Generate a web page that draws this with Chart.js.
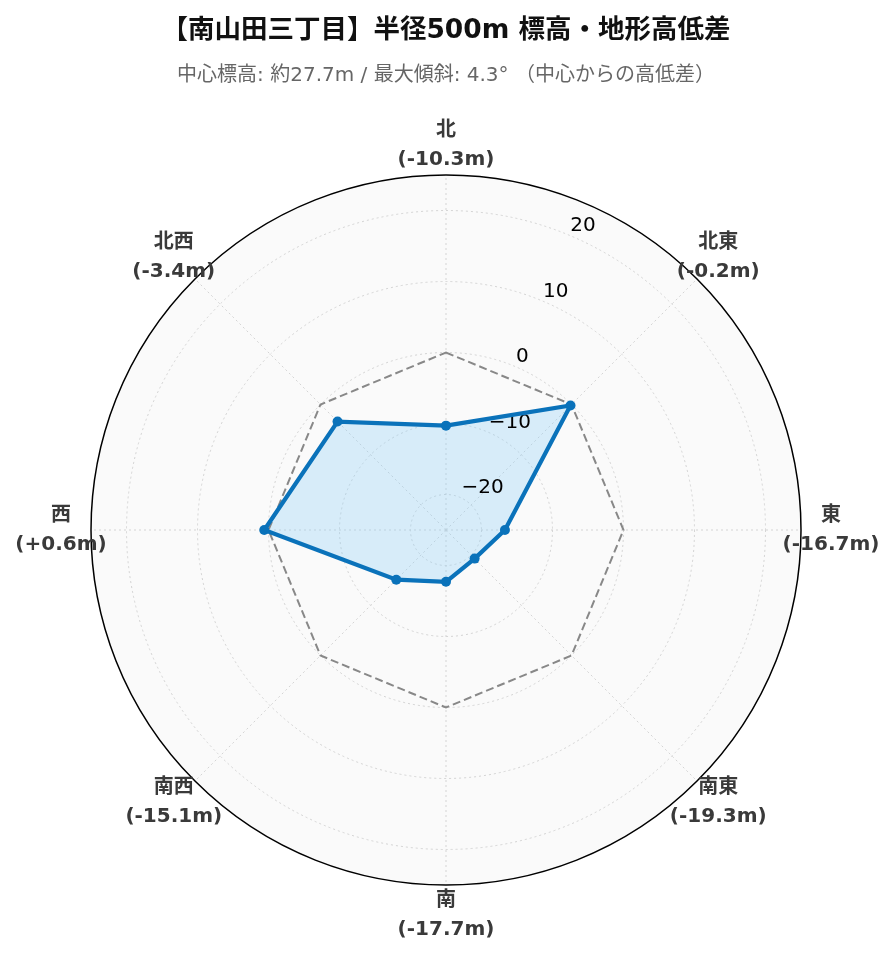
<!DOCTYPE html>
<html>
<head>
<meta charset="utf-8">
<script src="https://cdn.jsdelivr.net/npm/chart.js@4.4.1/dist/chart.umd.min.js"></script>
<style>
html, body { margin: 0; padding: 0; background: #fff; }
</style>
</head>
<body>
<canvas id="elevChart" width="896" height="962"></canvas>
<script>
// 方位と中心からの高低差 (m)
const directions = ["北", "北東", "東", "南東", "南", "南西", "西", "北西"];
const elevDiff = [-10.3, -0.2, -16.7, -19.3, -17.7, -15.1, 0.6, -3.4];
const baseLine = [0, 0, 0, 0, 0, 0, 0, 0];
const tickValues = [-20, -10, 0, 10, 20];
const rMin = -25;
const rMax = 25;

const FONT = '"DejaVu Sans", "Noto Sans CJK JP", sans-serif';

function diffLabel(v) {
  return "(" + (v > 0 ? "+" : "") + v.toFixed(1) + "m)";
}

// radial tick labels at 22.5deg + direction labels with values
const polarText = {
  id: "polarText",
  beforeDatasetsDraw(chart) {
    const r = chart.scales.r;
    const ctx = chart.ctx;
    ctx.save();
    ctx.font = "20px " + FONT;
    ctx.fillStyle = "#000";
    ctx.textAlign = "left";
    ctx.textBaseline = "middle";
    tickValues.forEach(v => {
      const p = r.getPointPosition(0.5, r.getDistanceFromCenterForValue(v));
      const txt = v < 0 ? "\u2212" + Math.abs(v) : String(v);
      ctx.fillText(txt, p.x + 2, p.y - 9);
    });
    ctx.restore();
  },
  afterDatasetsDraw(chart) {
    const r = chart.scales.r;
    const ctx = chart.ctx;
    ctx.save();
    ctx.font = "bold 20px " + FONT;
    ctx.fillStyle = "#3a3a3a";
    ctx.textAlign = "center";
    ctx.textBaseline = "middle";
    directions.forEach((d, i) => {
      const p = r.getPointPosition(i, r.drawingArea + 30);
      ctx.fillText(d, p.x, p.y - 14.5);
      ctx.fillText(diffLabel(elevDiff[i]), p.x, p.y + 14.5);
    });
    ctx.restore();
  }
};

const isOuter = c => c.tick && c.tick.value === rMax;

new Chart("elevChart", {
  type: "radar",
  data: {
    labels: directions,
    datasets: [{
      label: "高低差",
      data: elevDiff,
      borderColor: "#0a72ba",
      backgroundColor: "rgba(135, 206, 250, 0.3)",
      borderWidth: 4.2,
      pointRadius: 5,
      pointBackgroundColor: "#0a72ba",
      pointBorderWidth: 0,
      fill: "start"
    }, {
      label: "基準",
      data: baseLine,
      borderColor: "#888888",
      borderWidth: 2,
      borderDash: [8, 4],
      pointRadius: 0,
      fill: false
    }]
  },
  options: {
    responsive: false,
    animation: false,
    layout: { padding: { left: 91, right: 95, top: 0, bottom: 77 } },
    plugins: {
      legend: { display: false },
      tooltip: { enabled: false },
      filler: { drawTime: "beforeDatasetsDraw" },
      title: {
        display: true,
        text: "【南山田三丁目】半径500m 標高・地形高低差",
        color: "#111",
        font: { family: FONT, size: 26.5, weight: "bold", lineHeight: 1 },
        padding: { top: 18, bottom: 17 }
      },
      subtitle: {
        display: true,
        text: "中心標高: 約27.7m / 最大傾斜: 4.3° （中心からの高低差）",
        color: "#666",
        font: { family: FONT, size: 20, lineHeight: 1 },
        padding: { top: 4.5, bottom: 89 }
      }
    },
    scales: {
      r: {
        min: rMin,
        max: rMax,
        backgroundColor: "#fafafa",
        afterBuildTicks: s => {
          s.ticks = tickValues.concat([rMax]).map(v => ({ value: v }));
        },
        ticks: { display: false },
        pointLabels: { display: false },
        grid: {
          circular: true,
          color: c => isOuter(c) ? "#000" : "#d4d4d4",
          lineWidth: c => isOuter(c) ? 1.5 : 1
        },
        border: { dash: c => isOuter(c) ? [] : [2, 3] },
        angleLines: { color: "#d4d4d4", lineWidth: 1, borderDash: [2, 3] }
      }
    }
  },
  plugins: [polarText]
});
</script>
</body>
</html>
